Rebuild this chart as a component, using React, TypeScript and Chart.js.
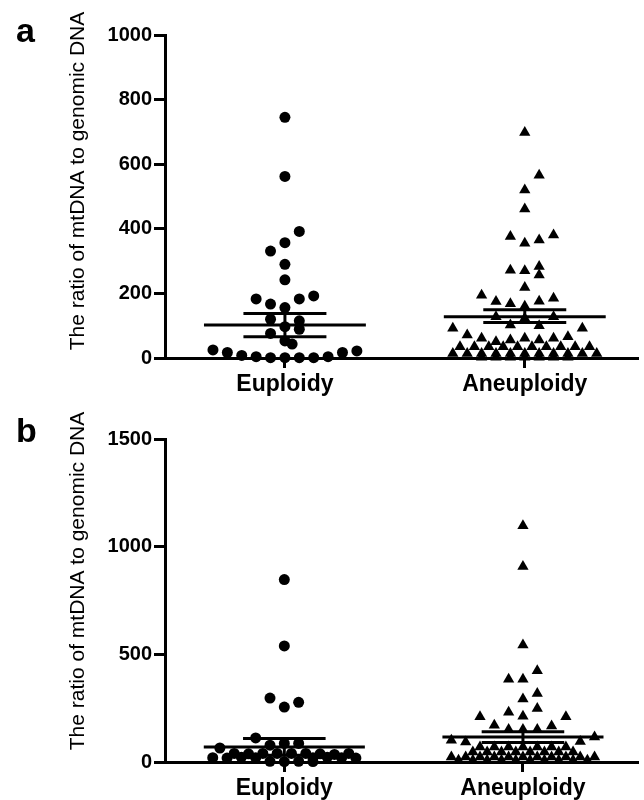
import React, { useEffect, useRef } from 'react';
import { Chart, registerables } from 'chart.js';

Chart.register(...registerables);

const FONT = '"Liberation Sans", Arial, Helvetica, sans-serif';

// ---------- labels ----------
const categories = ['Euploidy', 'Aneuploidy'];
const yTitle = 'The ratio of mtDNA to genomic DNA';
const panelLetters = ['a', 'b'];

// ---------- tick values ----------
const yTicksA = [0, 200, 400, 600, 800, 1000];
const yTicksB = [0, 500, 1000, 1500];

// ---------- panel a data ----------
const euploidyA = [745, 562, 392, 357, 331, 290, 242, 183, 183, 192, 167, 156, 120, 115, 97, 76, 89, 53, 43,
  25, 17, 8, 4, 1, 1, 1, 1, 4, 17, 22];
// column (jitter slot) of each point, relative to the category centre
const euploidyColsA = [0, 0, 1, 0, -1, 0, 0, -2, 1, 2, -1, 0, -1, 1, 0, -1, 1, 0, 0.5,
  -5, -4, -3, -2, -1, 0, 1, 2, 3, 4, 5];

const aneuploidyA = [698, 566, 520, 461, 376, 355, 365, 381, 272, 270, 283, 257, 218,
  194, 175, 168, 160, 176, 185,
  128, 102, 123, 100, 128,
  92, 92, 71, 66, 61, 61, 50, 56, 61, 56,
  35, 35, 35, 35, 35, 35, 35, 35, 35, 35,
  14, 14, 14, 14, 14, 14, 14, 14, 14, 14, 14,
  2, 2, 2, 2, 2, 2, 2];
const aneuploidyColsA = [0, 1, 0, 0, -1, 0, 1, 2, -1, 0, 1, 1, 0,
  -3, -2, -1, 0, 1, 2,
  -2, -1, 0, 1, 2,
  -5, 4, -4, 3, -3, 2, -2, -1, 0, 1,
  -4.5, -3.5, -2.5, -1.5, -0.5, 0.5, 1.5, 2.5, 3.5, 4.5,
  -5, -4, -3, -2, -1, 0, 1, 2, 3, 4, 5,
  -3, -2, -1, 0, 1, 2, 3];

const meanA = [102, 128];
const semLowA = [66, 110];
const semHighA = [138, 149];

// ---------- panel b data ----------
const euploidyB = [847, 539, 297, 277, 255, 112, 78, 86, 86, 65,
  40, 38, 40, 40, 40, 40, 38, 35, 40,
  20, 18, 22, 20, 20, 22, 20, 18,
  3, 2, 3, 2];
const euploidyColsB = [0, 0, -1, 1, 0, -2, -1, 0, 1, -4.5,
  -3.5, -2.5, -1.5, -0.5, 0.5, 1.5, 2.5, 3.5, 4.5,
  -5, -4, -3, -2, 2, 3, 4, 5,
  -1, 0, 1, 2];

const aneuploidyB = [1097, 908, 543, 424, 384, 384, 318, 293, 249, 231, 213, 210, 210, 171, 167, 151, 151, 151,
  116, 101, 93, 95,
  70, 70, 70, 70, 70, 70, 70,
  47, 47, 47, 47, 47, 47, 47, 47,
  23, 23, 23, 23, 23, 23, 23, 23, 23, 23, 23,
  8, 8, 8, 8, 8, 8, 8, 8, 8, 8];
const aneuploidyColsB = [0, 0, 0, 1, -1, 0, 1, 0, 1, -1, 0, -3, 3, -2, 2, -1, 0, 1,
  5, -5, -4, 4,
  -3, -2, -1, 0, 1, 2, 3,
  -3.5, -2.5, -1.5, -0.5, 0.5, 1.5, 2.5, 3.5,
  -5, -4, -3, -2, -1, 0, 1, 2, 3, 4, 5,
  -4.5, -3.5, -2.5, -1.5, -0.5, 0.5, 1.5, 2.5, 3.5, 4.5];

const meanB = [70, 116];
const semLowB = [31, 91];
const semHighB = [109, 141];

// ---------- styling constants ----------
const COL = 0.06;        // jitter slot width (category units)
const MEAN_HALF = 0.3375; // half width of mean line
const SEM_HALF = 0.173;   // half width of SEM caps

type Panel = {
  letter: string;
  eu: number[]; euCols: number[];
  an: number[]; anCols: number[];
  mean: number[]; low: number[]; high: number[];
  yTicks: number[];
  xMax: number;
  top: number;
  xHeight: number;
};

const panelText = {
  id: 'panelText',
  afterDraw(chart: any, _args: any, opts: any) {
    const ctx = chart.ctx;
    ctx.save();
    ctx.fillStyle = '#000';
    ctx.font = `bold 34px ${FONT}`;
    ctx.textAlign = 'left';
    ctx.textBaseline = 'alphabetic';
    ctx.fillText(opts.letter, opts.letterX, opts.letterY);
    ctx.translate(opts.titleX, opts.titleY);
    ctx.rotate(-Math.PI / 2);
    ctx.font = `21px ${FONT}`;
    ctx.textAlign = 'center';
    ctx.textBaseline = 'middle';
    ctx.fillText(yTitle, 0, 0);
    ctx.restore();
  },
};

function seg(x0: number, x1: number, y0: number, y1: number) {
  return {
    data: [{ x: x0, y: y0 }, { x: x1, y: y1 }],
    showLine: true,
    borderColor: '#000',
    borderWidth: 3,
    borderCapStyle: 'butt',
    pointRadius: 0,
    pointHoverRadius: 0,
    clip: false,
  };
}

function makeConfig(p: Panel): any {
  const datasets: any[] = [];
  [0, 1].forEach((i) => {
    const c = i + 1;
    datasets.push(seg(c - MEAN_HALF, c + MEAN_HALF, p.mean[i], p.mean[i]));
    datasets.push(seg(c - SEM_HALF, c + SEM_HALF, p.high[i], p.high[i]));
    datasets.push(seg(c - SEM_HALF, c + SEM_HALF, p.low[i], p.low[i]));
    datasets.push(seg(c, c, p.low[i], p.high[i]));
  });
  datasets.push({
    label: categories[0],
    data: p.eu.map((v, i) => ({ x: 1 + p.euCols[i] * COL, y: v })),
    pointStyle: 'circle',
    pointRadius: 5.5,
    pointHoverRadius: 5.5,
    backgroundColor: '#000',
    borderColor: '#000',
    borderWidth: 0,
    clip: false,
  });
  datasets.push({
    label: categories[1],
    data: p.an.map((v, i) => ({ x: 2 + p.anCols[i] * COL, y: v })),
    pointStyle: 'triangle',
    pointRadius: 6.5,
    pointHoverRadius: 6.5,
    backgroundColor: '#000',
    borderColor: '#000',
    borderWidth: 0,
    clip: false,
  });

  const yMax = p.yTicks[p.yTicks.length - 1];
  return {
    type: 'scatter',
    data: { datasets },
    plugins: [panelText],
    options: {
      animation: false,
      responsive: false,
      devicePixelRatio: 1,
      events: [],
      layout: { padding: { top: p.top, left: 0, right: 0, bottom: 0 } },
      plugins: {
        legend: { display: false },
        tooltip: { enabled: false },
        panelText: { letter: p.letter, letterX: 16, letterY: 42, titleX: 78, titleY: 181 },
      },
      scales: {
        x: {
          type: 'linear',
          min: 0.5,
          max: p.xMax,
          afterBuildTicks: (s: any) => { s.ticks = [{ value: 1 }, { value: 2 }]; },
          afterFit: (s: any) => { s.height = p.xHeight; },
          ticks: {
            callback: (v: number) => categories[Math.round(v) - 1] ?? '',
            font: { family: FONT, size: 23, weight: 'bold' },
            color: '#000',
            padding: 3,
            maxRotation: 0,
            autoSkip: false,
          },
          grid: { drawOnChartArea: false, drawTicks: true, tickLength: 10, color: '#000', lineWidth: 3 },
          border: { display: true, color: '#000', width: 3 },
        },
        y: {
          type: 'linear',
          min: 0,
          max: yMax,
          afterBuildTicks: (s: any) => { s.ticks = p.yTicks.map((v) => ({ value: v })); },
          afterFit: (s: any) => { s.width = 165; },
          ticks: {
            callback: (v: number) => String(v),
            font: { family: FONT, size: 20, weight: 'bold' },
            color: '#000',
            padding: 2,
          },
          grid: { drawOnChartArea: false, drawTicks: true, tickLength: 11, color: '#000', lineWidth: 3 },
          border: { display: true, color: '#000', width: 3 },
        },
      },
    },
  };
}

const panelA: Panel = {
  letter: panelLetters[0],
  eu: euploidyA, euCols: euploidyColsA,
  an: aneuploidyA, anCols: aneuploidyColsA,
  mean: meanA, low: semLowA, high: semHighA,
  yTicks: yTicksA, xMax: 2.47, top: 35, xHeight: 42,
};

const panelB: Panel = {
  letter: panelLetters[1],
  eu: euploidyB, euCols: euploidyColsB,
  an: aneuploidyB, anCols: aneuploidyColsB,
  mean: meanB, low: semLowB, high: semHighB,
  yTicks: yTicksB, xMax: 2.48, top: 39, xHeight: 38,
};

function PanelChart({ panel }: { panel: Panel }) {
  const ref = useRef<HTMLCanvasElement | null>(null);
  useEffect(() => {
    if (!ref.current) return;
    const chart = new Chart(ref.current, makeConfig(panel));
    return () => chart.destroy();
  }, [panel]);
  return <canvas ref={ref} width={644} height={400} style={{ display: 'block', width: 644, height: 400 }} />;
}

export default function App() {
  return (
    <div style={{ position: 'absolute', left: 0, top: 0, width: 644, height: 800, background: '#fff' }}>
      <PanelChart panel={panelA} />
      <PanelChart panel={panelB} />
    </div>
  );
}
